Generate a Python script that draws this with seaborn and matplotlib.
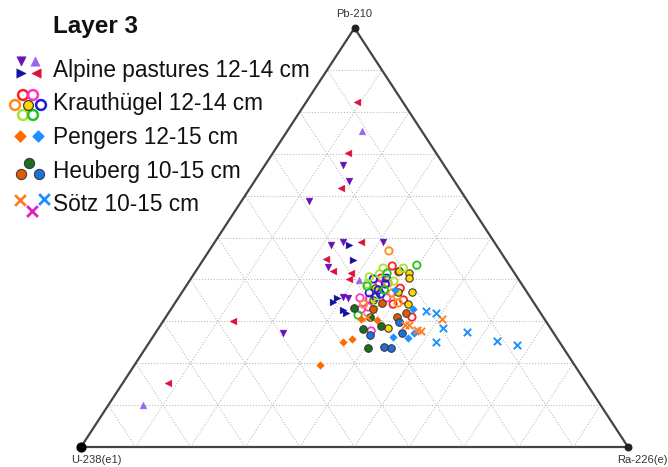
import matplotlib
matplotlib.use("Agg")
import matplotlib.pyplot as plt
import pandas as pd
import seaborn as sns

sns.set_theme(style="white")
plt.rcParams['font.family'] = ['Liberation Sans', 'DejaVu Sans']

# Compositions in percent: (Pb-210, U-238(e1), Ra-226(e))
ALPINE_LEFT = [(82.3, 8.4, 9.3), (70.2, 16.1, 13.7), (61.8, 21.6, 16.6), (48.9, 24.4, 26.7),
               (44.9, 32.8, 22.3), (42.0, 32.9, 25.1), (41.5, 29.9, 28.6), (40.1, 30.9, 29.0),
               (30.1, 57.2, 12.7), (15.3, 76.5, 8.2)]
ALPINE_DOWN = [(67.3, 18.5, 14.2), (63.5, 19.3, 17.2), (58.7, 29.0, 12.3), (48.2, 30.2, 21.6),
               (48.9, 27.7, 23.4), (48.9, 20.3, 30.8), (43.0, 33.3, 23.7), (35.8, 34.2, 30.0),
               (35.6, 33.4, 31.0), (27.2, 49.5, 23.3)]
ALPINE_UP = [(75.4, 10.9, 13.7), (39.9, 29.3, 30.8), (10.0, 83.7, 6.3)]
ALPINE_RIGHT = [(48.2, 26.9, 24.9), (44.6, 28.0, 27.4), (35.6, 35.4, 29.0), (34.6, 36.6, 28.8),
                (32.7, 35.8, 31.5), (32.0, 35.6, 32.4)]

KRAUT_RED = [(43.2, 21.5, 35.3), (41.8, 21.0, 37.2), (40.3, 25.0, 34.7), (37.9, 22.7, 39.4),
             (35.1, 23.5, 41.4), (34.1, 25.9, 40.0), (31.0, 24.0, 45.0)]
KRAUT_MAGENTA = [(38.9, 26.0, 35.1), (35.6, 31.2, 33.2), (35.3, 29.6, 35.1), (33.4, 30.8, 35.8),
                 (32.9, 32.3, 34.8), (27.7, 33.1, 39.2), (35.6, 26.3, 38.1)]
KRAUT_ORANGE = [(46.8, 20.3, 32.9), (39.1, 24.3, 36.6), (36.0, 24.2, 39.8), (34.4, 24.8, 40.8),
                (34.1, 31.3, 34.6), (36.8, 24.7, 38.5)]
KRAUT_YELLOW = [(42.0, 20.9, 37.1), (41.5, 19.2, 39.3), (40.3, 19.8, 39.9), (37.9, 27.3, 34.8),
                (37.0, 23.5, 39.5), (37.0, 21.0, 42.0), (34.1, 23.1, 42.8), (28.4, 29.7, 41.9),
                (35.1, 29.0, 35.9)]
KRAUT_BLUE = [(40.1, 26.5, 33.4), (38.9, 24.9, 36.2), (36.8, 28.9, 34.3), (36.5, 27.0, 36.5),
              (35.8, 28.2, 36.0), (40.3, 24.0, 35.7), (37.5, 26.9, 35.6)]
KRAUT_YGREEN = [(42.7, 19.7, 37.6), (42.7, 23.4, 33.9), (41.3, 24.8, 33.9), (40.6, 27.0, 32.4),
                (39.6, 23.0, 37.4), (38.9, 28.2, 32.9), (34.4, 28.7, 36.9)]
KRAUT_GREEN = [(43.4, 16.9, 39.7), (41.5, 23.3, 35.2), (38.4, 28.5, 33.1), (31.5, 33.6, 34.9),
               (37.5, 25.8, 36.7)]

PENGERS_ORANGE = [(19.6, 46.5, 33.9), (25.1, 39.6, 35.3), (25.8, 37.6, 36.6), (30.5, 33.5, 36.0),
                  (30.3, 30.7, 39.0)]
PENGERS_BLUE = [(37.5, 23.8, 38.7), (32.9, 22.8, 44.3), (27.2, 25.5, 47.3), (26.0, 27.2, 46.8),
                (26.3, 29.9, 43.8)]

HEUBERG_GREEN = [(33.2, 33.5, 33.3), (31.0, 31.7, 37.3), (28.9, 30.7, 40.4), (28.2, 34.3, 37.5),
                 (23.6, 35.7, 40.7)]
HEUBERG_ORANGE = [(34.4, 27.8, 37.8), (32.9, 30.1, 37.0), (32.0, 24.6, 43.4), (31.0, 26.7, 42.3)]
HEUBERG_BLUE = [(29.8, 27.0, 43.2), (27.2, 27.7, 45.1), (26.7, 33.9, 39.4), (23.9, 32.6, 43.5),
                (23.6, 31.5, 44.9)]

SOTZ_ORANGE = [(31.0, 32.2, 36.8), (30.5, 18.7, 50.8), (29.1, 26.3, 44.6), (29.1, 25.4, 45.5),
               (27.9, 24.6, 47.5), (27.7, 24.0, 48.3)]
SOTZ_BLUE = [(32.5, 20.7, 46.8), (32.0, 19.1, 48.9), (28.4, 19.6, 52.0), (27.4, 15.7, 56.9),
             (25.1, 22.6, 52.3), (25.3, 11.3, 63.4), (24.3, 8.2, 67.5)]

AXIS_LABELS = ["Pb-210", "U-238(e1)", "Ra-226(e)"]
LEGEND_TITLE = "Layer 3"
LEGEND_LABELS = ["Alpine pastures 12-14 cm", "Krauthügel 12-14 cm", "Pengers 12-15 cm",
                 "Heuberg 10-15 cm", "Sötz 10-15 cm"]

# name, points, marker, face, edge, size, linewidth
STYLES = [
    ("alp_left", ALPINE_LEFT, "<", "#e0103c", "#e0103c", 24, 0.3),
    ("alp_down", ALPINE_DOWN, "v", "#6a10b8", "#6a10b8", 24, 0.3),
    ("alp_up", ALPINE_UP, "^", "#9a66ee", "#9a66ee", 24, 0.3),
    ("alp_right", ALPINE_RIGHT, ">", "#12129e", "#12129e", 24, 0.3),
    ("kr_red", KRAUT_RED, "o", "none", "#ff2020", 28, 1.3),
    ("kr_magenta", KRAUT_MAGENTA, "o", "none", "#ff33cc", 28, 1.3),
    ("kr_orange", KRAUT_ORANGE, "o", "none", "#ff8c1a", 28, 1.3),
    ("kr_yellow", KRAUT_YELLOW, "o", "#ffd800", "#3a3a3a", 28, 0.8),
    ("kr_blue", KRAUT_BLUE, "o", "none", "#1f1fd0", 28, 1.3),
    ("kr_ygreen", KRAUT_YGREEN, "o", "none", "#a6e22e", 28, 1.3),
    ("kr_green", KRAUT_GREEN, "o", "none", "#22c422", 28, 1.3),
    ("pe_orange", PENGERS_ORANGE, "D", "#ff6a00", "#ff6a00", 15, 0.3),
    ("pe_blue", PENGERS_BLUE, "D", "#1e8fff", "#1e8fff", 15, 0.3),
    ("he_green", HEUBERG_GREEN, "o", "#1b6e1b", "#333333", 30, 0.7),
    ("he_orange", HEUBERG_ORANGE, "o", "#e05a04", "#333333", 30, 0.7),
    ("he_blue", HEUBERG_BLUE, "o", "#1f6fd8", "#333333", 30, 0.7),
    ("so_orange", SOTZ_ORANGE, "x", "#ff7f27", "#ff7f27", 28, 1.4),
    ("so_blue", SOTZ_BLUE, "x", "#1e8fff", "#1e8fff", 28, 1.4),
]

rows = []
for name, pts, *_ in STYLES:
    for pb, u, ra in pts:
        rows.append({"series": name, "Pb": pb, "U": u, "Ra": ra})
df = pd.DataFrame(rows)
total = df[["Pb", "U", "Ra"]].sum(axis=1)
df["y"] = df["Pb"] / total
df["x"] = df["Ra"] / total + df["y"] / 2

W, H = 668, 467
fig = plt.figure(figsize=(W / 100, H / 100), dpi=100)
ax = fig.add_axes([81 / W, 20 / H, 547 / W, 419 / H])
ax.set_xlim(0, 1)
ax.set_ylim(0, 1)
ax.axis("off")

# ternary grid every 10 %
grid_kw = dict(color="#bdbdbd", lw=0.8, ls=(0, (1, 1.6)), zorder=1)
for k in range(1, 10):
    f = k / 10
    ax.plot([f / 2, 1 - f / 2], [f, f], **grid_kw)
    ax.plot([f, f + (1 - f) / 2], [0, 1 - f], **grid_kw)
    ax.plot([1 - f, (1 - f) / 2], [0, 1 - f], **grid_kw)

ax.plot([0, 1, 0.5, 0], [0, 0, 1, 0], color="#444444", lw=1.6, zorder=2, clip_on=False)
ax.scatter([0], [0], s=40, color="black", zorder=6, clip_on=False)
ax.scatter([1, 0.5], [0, 1], s=22, color="#222222", zorder=6, clip_on=False)

for i, (name, pts, marker, face, edge, size, lw) in enumerate(STYLES):
    sub = df[df["series"] == name]
    kws = dict(marker=marker, s=size, linewidth=lw, edgecolor=edge, ax=ax,
               legend=False, zorder=3 + i * 0.01)
    if face == "none":
        sns.scatterplot(data=sub, x="x", y="y", color=edge, facecolor="none", **kws)
    else:
        sns.scatterplot(data=sub, x="x", y="y", color=face, **kws)
for c in ax.collections:
    c.set_clip_on(False)
ax.set_xlabel("")
ax.set_ylabel("")

lab_kw = dict(fontsize=8, color="#333333", ha="center", va="center")
fig.text(354 / W, 1 - 14 / H, AXIS_LABELS[0], **lab_kw)
fig.text(96 / W, 1 - 460 / H, AXIS_LABELS[1], **lab_kw)
fig.text(642 / W, 1 - 460 / H, AXIS_LABELS[2], **lab_kw)

# legend drawn in figure pixel space
lax = fig.add_axes([0, 0, 1, 1])
lax.set_xlim(0, W)
lax.set_ylim(H, 0)
lax.axis("off")
lax.text(53, 33, LEGEND_TITLE, fontsize=17.5, fontweight="bold", va="baseline", color="#111111")
for lbl, yb in zip(LEGEND_LABELS, [77, 110, 144, 178, 211]):
    lax.text(53, yb, lbl, fontsize=16.3, va="baseline", color="#111111")

lk = dict(s=46, linewidths=0.3)
lax.scatter([21], [61], marker="v", color="#6a10b8", **lk)
lax.scatter([35], [61], marker="^", color="#9a66ee", **lk)
lax.scatter([21], [73], marker=">", color="#12129e", **lk)
lax.scatter([36], [73], marker="<", color="#e0103c", **lk)

for (cx, cy), col in zip([(23, 95), (33, 95), (15, 105), (41, 105), (23, 115), (33, 115)],
                         ["#ff2020", "#ff33cc", "#ff8c1a", "#1f1fd0", "#a6e22e", "#22c422"]):
    lax.scatter([cx], [cy], marker="o", s=50, facecolor="none", edgecolor=col, linewidths=1.8)
lax.scatter([28], [105], marker="o", s=50, facecolor="#ffd800", edgecolor="#3a3a3a", linewidths=0.9)

lax.scatter([20], [136], marker="D", s=30, color="#ff6a00")
lax.scatter([38], [136], marker="D", s=30, color="#1e8fff")

lax.scatter([29], [163], marker="o", s=55, facecolor="#1b6e1b", edgecolor="#333333", linewidths=0.7)
lax.scatter([21], [174], marker="o", s=55, facecolor="#e05a04", edgecolor="#333333", linewidths=0.7)
lax.scatter([39], [174], marker="o", s=55, facecolor="#1f6fd8", edgecolor="#333333", linewidths=0.7)

lax.scatter([20], [200], marker="x", s=60, color="#ff7f27", linewidths=2)
lax.scatter([32], [211], marker="x", s=60, color="#e020c0", linewidths=2)
lax.scatter([44], [199], marker="x", s=60, color="#1e8fff", linewidths=2)

fig.savefig("out.png", dpi=100)
